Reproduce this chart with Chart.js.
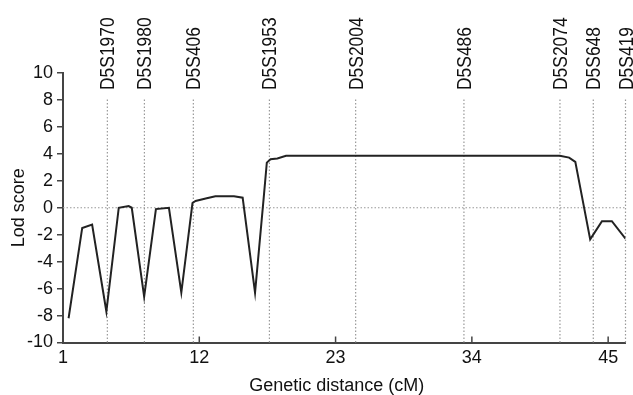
<!DOCTYPE html>
<html>
<head>
<meta charset="utf-8">
<script src="https://cdn.jsdelivr.net/npm/chart.js@4"></script>
<style>
  body { margin: 0; background: #fff; }
  #wrap { width: 633px; height: 395px; }
</style>
</head>
<body>
<div id="wrap"><canvas id="myChart" width="633" height="395"></canvas></div>
<script>
/* data */
const distance = [1.45, 2.55, 3.35, 4.5, 5.5, 6.3, 6.55, 7.55, 8.5, 9.55, 10.55, 11.45, 11.7, 12.6, 13.3, 14.8, 15.5, 16.5, 17.2, 17.45, 17.75, 18.3, 19.0, 41.1, 41.85, 42.35, 43.55, 44.5, 45.3, 46.4];
const lodScore = [-8.2, -1.5, -1.25, -7.7, 0.0, 0.12, 0.0, -6.6, -0.1, 0.0, -6.3, 0.35, 0.5, 0.7, 0.85, 0.85, 0.75, -6.3, 0.75, 3.35, 3.6, 3.65, 3.85, 3.85, 3.72, 3.4, -2.35, -1.0, -1.0, -2.3];

const markerNames = ['D5S1970', 'D5S1980', 'D5S406', 'D5S1953', 'D5S2004', 'D5S486', 'D5S2074', 'D5S648', 'D5S419'];
const markerPos = [4.58, 7.57, 11.52, 17.66, 24.62, 33.36, 41.11, 43.8, 46.4];

const xTicks = [1, 12, 23, 34, 45];
const xMin = 1, xMax = 46.4;
const yMin = -10, yMax = 10, yStep = 2;
const markerTop = 8.1;

Chart.defaults.font.family = '"Liberation Sans", Arial, Helvetica, sans-serif';
Chart.defaults.color = '#111';

/* datasets */
var datasets = [{
  label: 'Lod score',
  data: distance.map(function(d, i) { return { x: d, y: lodScore[i] }; }),
  borderColor: '#222',
  borderWidth: 2,
  pointRadius: 0,
  tension: 0,
  order: 0
}, {
  label: 'zero',
  data: [{ x: xMin, y: 0 }, { x: xMax, y: 0 }],
  borderColor: '#999',
  borderWidth: 1.2,
  borderDash: [1.5, 2],
  pointRadius: 0,
  order: 1
}];

markerPos.forEach(function(p, i) {
  datasets.push({
    label: markerNames[i],
    data: [{ x: p, y: yMin }, { x: p, y: markerTop }],
    borderColor: '#999',
    borderWidth: 1.2,
    borderDash: [1.5, 2],
    pointRadius: 0,
    clip: false,
    order: 1
  });
});

/* marker names above the plot + inward x tick marks */
const markerLabels = {
  id: 'markerLabels',
  afterDraw: function(chart) {
    const c = chart.ctx;
    const x = chart.scales.x;
    c.save();
    c.fillStyle = '#111';
    c.font = '21px "Liberation Sans", Arial, sans-serif';
    c.textAlign = 'left';
    c.textBaseline = 'alphabetic';
    markerNames.forEach(function(name, i) {
      c.save();
      c.translate(x.getPixelForValue(markerPos[i]) + 7, 90);
      c.rotate(-Math.PI / 2);
      c.scale(0.83, 1);
      c.fillText(name, 0, 0);
      c.restore();
    });
    c.strokeStyle = '#444';
    c.lineWidth = 1.5;
    xTicks.forEach(function(t) {
      const px = x.getPixelForValue(t);
      c.beginPath();
      c.moveTo(px, chart.chartArea.bottom);
      c.lineTo(px, chart.chartArea.bottom - 6);
      c.stroke();
    });
    c.restore();
  }
};

var ctx = document.getElementById('myChart').getContext('2d');

new Chart(ctx, {
  type: 'line',
  data: { datasets: datasets },
  plugins: [markerLabels],
  options: {
    responsive: false,
    animation: false,
    layout: { padding: { top: 73, right: 7.5, left: 0, bottom: 0 } },
    plugins: {
      legend: { display: false },
      tooltip: { enabled: false }
    },
    scales: {
      x: {
        type: 'linear',
        min: xMin,
        max: xMax,
        afterBuildTicks: function(scale) {
          scale.ticks = xTicks.map(function(v) { return { value: v }; });
        },
        afterFit: function(scale) { scale.height = 52.5; },
        ticks: { font: { size: 18 }, padding: 5, maxRotation: 0, autoSkip: false },
        grid: { display: false, drawTicks: false },
        border: { color: '#444', width: 2 },
        title: {
          display: true,
          // trailing spaces nudge the centred title a little to the left, as in the figure
          text: 'Genetic distance (cM)   ',
          font: { size: 18, lineHeight: 1 },
          padding: { top: 0, bottom: 0 }
        }
      },
      y: {
        min: yMin,
        max: yMax,
        afterFit: function(scale) { scale.width = 63; },
        ticks: { stepSize: yStep, font: { size: 18 }, padding: 4 },
        grid: { drawOnChartArea: false, drawTicks: true, tickLength: 6, color: '#444', lineWidth: 1.5 },
        border: { color: '#444', width: 2 },
        title: {
          display: true,
          text: 'Lod score',
          font: { size: 18 },
          padding: { top: 8.5, bottom: 0 }
        }
      }
    }
  }
});
</script>
</body>
</html>
